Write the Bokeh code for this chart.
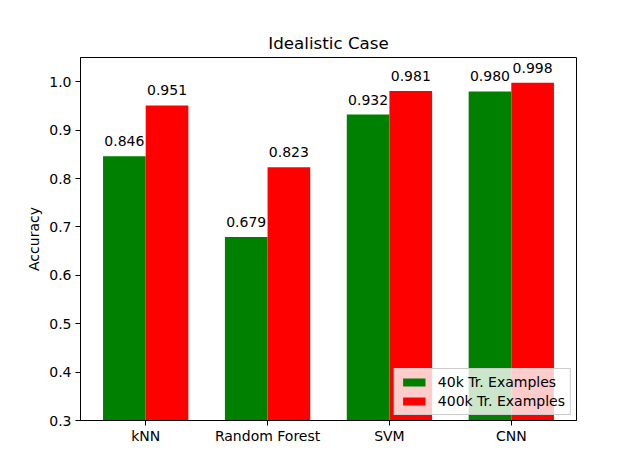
from bokeh.plotting import figure
from bokeh.models import ColumnDataSource, FixedTicker, Legend, LegendItem, CustomJSTickFormatter, FactorRange
from bokeh.transform import dodge
from bokeh.core.properties import value
from bokeh.embed import file_html
from bokeh.resources import INLINE

categories = ["kNN", "Random Forest", "SVM", "CNN"]
acc_40k = [0.846, 0.679, 0.932, 0.980]
acc_400k = [0.951, 0.823, 0.981, 0.998]
series_names = ["40k Tr. Examples", "400k Tr. Examples"]
y_ticks = [0.3, 0.4, 0.5, 0.6, 0.7, 0.8, 0.9, 1.0]

FONT = "DejaVu Sans"
FS = "14px"

src = ColumnDataSource(dict(
    cat=categories,
    a=acc_40k,
    b=acc_400k,
    la=["%.3f" % v for v in acc_40k],
    lb=["%.3f" % v for v in acc_400k],
))

xr = FactorRange(factors=categories, range_padding=0.0175, range_padding_units="percent",
                 factor_padding=0.0)

p = figure(x_range=xr, y_range=(0.3, 1.05),
           frame_width=496, frame_height=363,
           min_border_left=80, min_border_right=64,
           min_border_top=57, min_border_bottom=52,
           output_backend="svg", toolbar_location=None,
           title="Idealistic Case")

bw = 0.35
r1 = p.vbar(x=dodge("cat", -bw / 2, range=p.x_range), top="a", bottom=0.3, width=bw,
            source=src, fill_color="#008000", line_color=None)
r2 = p.vbar(x=dodge("cat", bw / 2, range=p.x_range), top="b", bottom=0.3, width=bw,
            source=src, fill_color="#ff0000", line_color=None)

p.text(x=dodge("cat", -bw / 2, range=p.x_range), y="a", text="la", source=src,
       text_align="center", text_baseline="alphabetic", y_offset=-15,
       text_font=value(FONT), text_font_size=FS, text_color="black")
p.text(x=dodge("cat", bw / 2, range=p.x_range), y="b", text="lb", source=src,
       text_align="center", text_baseline="alphabetic", y_offset=-15,
       text_font=value(FONT), text_font_size=FS, text_color="black")

p.title.align = "center"
p.title.text_font = FONT
p.title.text_font_size = "16.7px"
p.title.text_font_style = "normal"
p.title.text_color = "black"
p.title.standoff = 9

p.xgrid.visible = False
p.ygrid.visible = False
p.outline_line_color = "black"
p.outline_line_width = 1
p.outline_line_alpha = 1.0

for ax in (p.xaxis[0], p.yaxis[0]):
    ax.axis_line_color = "black"
    ax.major_tick_line_color = "black"
    ax.major_tick_out = 5
    ax.major_tick_in = 0
    ax.minor_tick_line_color = None
    ax.major_label_text_font = FONT
    ax.major_label_text_font_size = FS
    ax.major_label_text_color = "black"
p.xaxis.major_label_standoff = 2
p.yaxis.major_label_standoff = 4

p.yaxis.ticker = FixedTicker(ticks=y_ticks)
p.yaxis.formatter = CustomJSTickFormatter(code="return tick.toFixed(1);")
p.yaxis.axis_label = "Accuracy"
p.yaxis.axis_label_text_font = FONT
p.yaxis.axis_label_text_font_size = FS
p.yaxis.axis_label_text_font_style = "normal"
p.yaxis.axis_label_text_color = "black"
p.yaxis.axis_label_standoff = 4

legend = Legend(items=[LegendItem(label=series_names[0], renderers=[r1]),
                       LegendItem(label=series_names[1], renderers=[r2])],
                location="bottom_right")
legend.label_text_font = FONT
legend.label_text_font_size = FS
legend.label_text_color = "black"
legend.glyph_width = 28
legend.glyph_height = 10
legend.label_height = 14
legend.spacing = 3
legend.padding = 5
legend.margin = 5
legend.border_line_color = "#cccccc"
legend.border_line_alpha = 1.0
legend.background_fill_alpha = 0.8
legend.label_standoff = 10
p.add_layout(legend)

open("out.html", "w").write(file_html(p, INLINE))
